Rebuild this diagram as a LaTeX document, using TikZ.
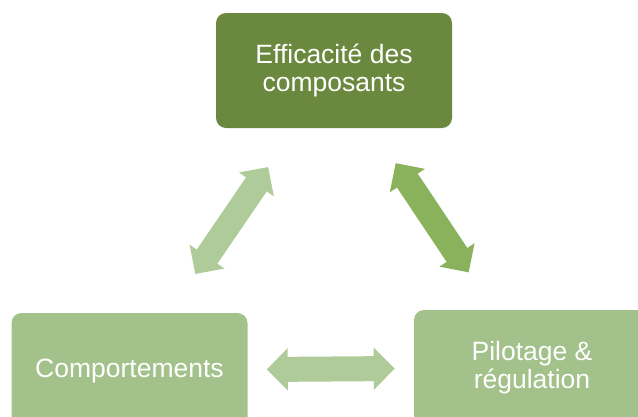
\documentclass[tikz,border=0pt]{standalone}
\usepackage{fontspec}
\setmainfont{Liberation Sans}
\usetikzlibrary{arrows.meta}
\definecolor{darkgreen}{HTML}{6A893F}
\definecolor{midgreen}{HTML}{A3C18A}
\definecolor{palegreen}{HTML}{B0CB9A}
\definecolor{arrowgreen}{HTML}{8AB25C}
\begin{document}
\begin{tikzpicture}[x=1pt, y=-1pt,
    box/.style = {rounded corners=10pt, minimum width=236pt, minimum height=115pt,
                  align=center, text=white, font=\fontsize{26.5}{28}\selectfont},
    link/.style = {line width=25pt, {Triangle[length=21pt,width=41pt]}-{Triangle[length=21pt,width=41pt]}}]
            \useasboundingbox (0,0) rectangle (638,416);
            \clip (0,0) rectangle (638,416);
            \node[box, fill=darkgreen] (eff) at (334,70.5) {Efficacité des\\composants};
            \node[box, fill=midgreen] (comp) at (129.5,370.5) {Comportements};
            \node[box, fill=midgreen] (pil) at (532,367.5) {Pilotage \&\\régulation};
            \draw[link, palegreen, shorten <=47pt, shorten >=47pt] (eff) -- (comp);
            \draw[link, arrowgreen, shorten <=42pt, shorten >=45pt] (eff) -- (pil);
            \draw[link, palegreen, shorten <=19pt, shorten >=19pt] (comp) -- (pil);

        \end{tikzpicture}
\end{document}
